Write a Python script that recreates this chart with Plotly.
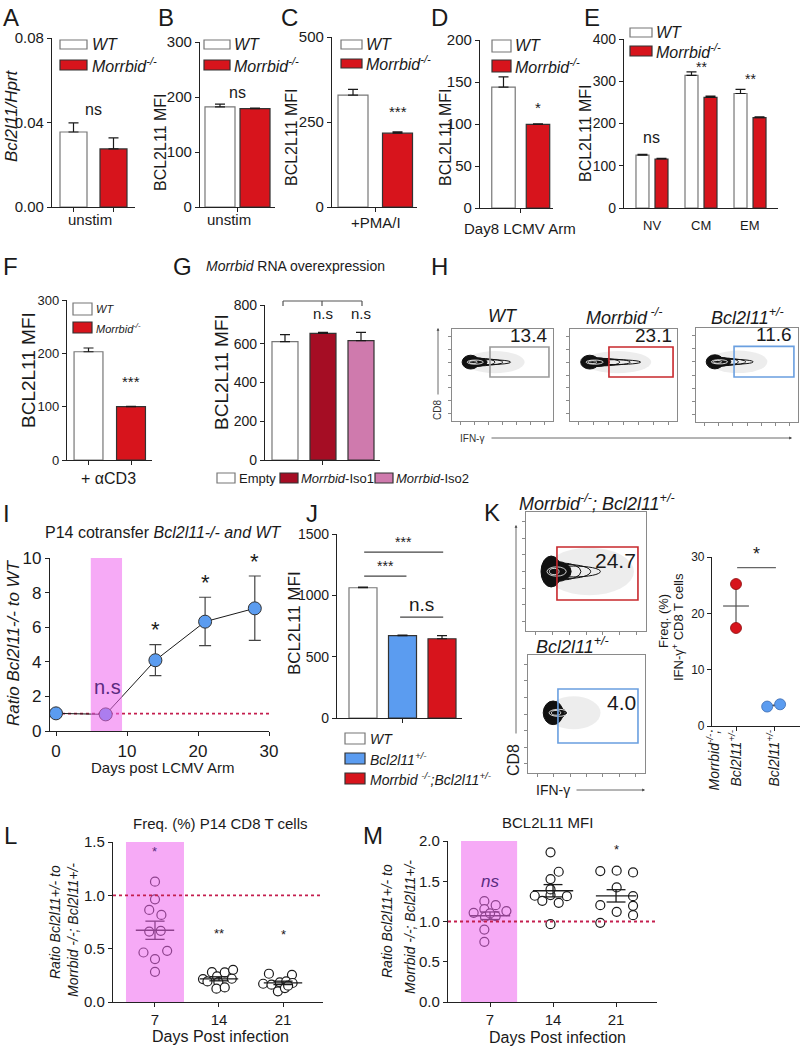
import numpy as np
import plotly.graph_objects as go

W, H = 800, 1047
FONT = "Liberation Sans, Arial, Helvetica, sans-serif"
INK = "#1a1a1a"
GREY_EDGE = "#777777"
DARK_EDGE = "#333333"
RED = "#d7141c"
BLUE = "#5b9cf0"
ISO1 = "#a50d24"
ISO2 = "#cf7aad"
PINK = "rgba(238,100,238,0.55)"
DOT_RED = "#c41e4e"
PURPLE_TXT = "#5b2a80"

# ===================== DATA =====================
# A
A_series = ["WT", "Morrbid<sup>-/-</sup>"]
A_values = [0.0355, 0.0275]
A_errors = [0.0043, 0.0052]
A_yticks = [0, 0.04, 0.08]
A_yticklabels = ["0.00", "0.04", "0.08"]
# B
B_values = [182, 179]
B_errors = [5, 1]
B_yticks = [0, 100, 200, 300]
# C
C_values = [329, 217]
C_errors = [17, 4]
C_yticks = [0, 250, 500]
# D
D_values = [144, 99.5]
D_errors = [12, 0.6]
D_yticks = [0, 50, 100, 150, 200]
# E
E_categories = ["NV", "CM", "EM"]
E_wt = [125, 314, 271]
E_wt_err = [2, 8, 10]
E_ko = [116, 262, 214]
E_ko_err = [1.5, 3, 1.5]
E_sig = ["ns", "**", "**"]
E_sig_y = [168, 334, 305]
E_yticks = [0, 100, 200, 300, 400]
# F
F_values = [203, 100]
F_errors = [7, 0.8]
F_yticks = [0, 100, 200, 300]
# G
G_labels = ["Empty", "<i>Morrbid</i>-Iso1", "<i>Morrbid</i>-Iso2"]
G_values = [611, 654, 616]
G_errors = [36, 5, 43]
G_yticks = [0, 200, 400, 600, 800]
# H (flow)
H_samples = ["WT", "Morrbid<sup> -/-</sup>", "Bcl2l11<sup>+/-</sup>"]
H_pct = ["13.4", "23.1", "11.6"]
H_core_x = [0.2, 0.2, 0.2]
H_core_y = [0.64, 0.64, 0.64]
H_tail = [0.58, 0.66, 0.56]
H_cloud = [0.72, 0.76, 0.70]
H_gate_x0 = [0.376, 0.364, 0.373]
H_gate_x1 = [0.96, 0.963, 0.96]
H_gate_y0 = [0.478, 0.478, 0.478]
H_gate_y1 = [0.804, 0.804, 0.804]
# I
I_days = [0, 7, 14, 21, 28]
I_ratio = [1.02, 0.96, 4.09, 6.32, 7.09]
I_err_up = [0, 0, 0.90, 1.41, 1.87]
I_err_down = [0, 0, 0.89, 1.39, 1.85]
I_sig = ["", "n.s", "*", "*", "*"]
I_xticks = [0, 10, 20, 30]
I_yticks = [0, 2, 4, 6, 8, 10]
# J
J_labels = ["WT", "Bcl2l11<sup>+/-</sup>", "Morrbid <sup>-/-</sup>;Bcl2l11<sup>+/-</sup>"]
J_values = [1062, 671, 646]
J_errors = [5, 4, 25]
J_yticks = [0, 500, 1000, 1500]
# K
K_titles = ["Morrbid<sup>-/-</sup>; Bcl2l11<sup>+/-</sup>", "Bcl2l11<sup>+/-</sup>"]
K_pct = ["24.7", "4.0"]
K_core_x = [0.225, 0.23]
K_core_y = [0.5, 0.51]
K_tail = [0.62, 0.33]
K_cloud = [0.9, 0.62]
K_gates = [[0.258, 0.933, 0.26, 0.706], [0.256, 0.94, 0.254, 0.712]]
K_red = [25.2, 17.4]
K_blue = [3.45, 3.85]
K_blue_jitter = [-0.18, 0.16]
K_yticks = [0, 10, 20, 30]
# L
L_days = ["7", "14", "21"]
L_vals = [
    [1.128, 0.963, 0.863, 0.816, 0.660, 0.667, 0.464, 0.480, 0.402, 0.283],
    [0.215, 0.280, 0.240, 0.277, 0.302, 0.193, 0.187, 0.218, 0.125, 0.137],
    [0.265, 0.255, 0.171, 0.162, 0.184, 0.193, 0.178, 0.100, 0.131, 0.153],
]
L_jitter = [
    [0, 0, -0.09, 0.10, -0.09, 0.09, -0.18, 0.19, 0, 0],
    [-0.25, -0.11, -0.03, 0.09, 0.22, -0.18, -0.01, 0.20, -0.04, 0.09],
    [-0.22, 0.14, -0.31, -0.18, -0.05, 0.05, 0.15, -0.08, 0.03, 0.08],
]
L_sig = ["*", "**", "*"]
L_sig_y = [1.414, 0.645, 0.636]
L_yticks = [0, 0.5, 1.0, 1.5]
L_yticklabels = ["0.0", "0.5", "1.0", "1.5"]
# M
M_vals = [
    [1.253, 1.108, 1.153, 1.203, 1.129, 1.058, 1.066, 0.900, 0.747, 1.100],
    [1.859, 1.618, 1.527, 1.320, 1.257, 1.328, 1.398, 1.232, 1.315, 0.967],
    [1.627, 1.631, 1.610, 1.423, 1.203, 1.315, 1.195, 1.120, 1.079, 0.983],
]
M_jitter = [
    [-0.09, -0.26, -0.09, 0.09, 0.26, -0.08, 0.09, -0.09, -0.09, 0.0],
    [-0.04, 0.09, -0.04, -0.29, -0.17, -0.04, -0.04, 0.09, 0.22, -0.04],
    [-0.25, 0.01, 0.27, 0.01, -0.25, 0.27, 0.27, 0.01, 0.27, -0.25],
]
M_sig = ["ns", "**", "*"]
M_sig_y = [1.50, 2.05, 1.89]
M_yticks = [0, 0.5, 1.0, 1.5, 2.0]
M_yticklabels = ["0.0", "0.5", "1.0", "1.5", "2.0"]

# ===================== HELPERS =====================
fig = go.Figure()
shapes, annots = [], []
axis_layout = {}
counter = [0]


def px(x):
    return x / W


def py(y):
    return 1 - y / H


def new_axes(box, xr, yr, xtickvals=(), ytickvals=(), xticktext=None, yticktext=None,
             tickfont=14, line="#222222", mirror=False, ticklen=4):
    counter[0] += 1
    k = counter[0]
    s = "" if k == 1 else str(k)
    l, t, r, b = box
    common = dict(showgrid=False, zeroline=False, showline=True, linecolor=line, linewidth=1.2,
                  ticks="outside", ticklen=ticklen, tickwidth=1.2, tickcolor=line, mirror=mirror,
                  fixedrange=True, automargin=False,
                  tickfont=dict(family=FONT, size=tickfont, color=INK),
                  tickmode="array")
    xa = dict(common, domain=[px(l), px(r)], range=list(xr), anchor="y" + s, tickvals=list(xtickvals))
    if xticktext is not None:
        xa["ticktext"] = list(xticktext)
    else:
        xa["showticklabels"] = False
    ya = dict(common, domain=[py(b), py(t)], range=list(yr), anchor="x" + s, tickvals=list(ytickvals))
    if yticktext is not None:
        ya["ticktext"] = list(yticktext)
    else:
        ya["showticklabels"] = False
    axis_layout["xaxis" + s] = xa
    axis_layout["yaxis" + s] = ya
    return "x" + s, "y" + s


def txt(x, y, s, size=14, xa="center", ya="middle", angle=0, color=INK, xref="paper", yref="paper"):
    if xref == "paper":
        x = px(x)
    if yref == "paper":
        y = py(y)
    annots.append(dict(x=x, y=y, xref=xref, yref=yref, text=s, showarrow=False, xanchor=xa,
                       yanchor=ya, textangle=angle, borderpad=0,
                       font=dict(family=FONT, size=size, color=color)))


def prect(x0, y0, x1, y1, fill="rgba(0,0,0,0)", line=INK, lw=1.2):
    shapes.append(dict(type="rect", xref="paper", yref="paper", x0=px(x0), x1=px(x1),
                       y0=py(y1), y1=py(y0), fillcolor=fill, line=dict(color=line, width=lw)))


def pline(x0, y0, x1, y1, color=INK, lw=1.2):
    shapes.append(dict(type="line", xref="paper", yref="paper", x0=px(x0), x1=px(x1),
                       y0=py(y0), y1=py(y1), line=dict(color=color, width=lw)))


def aline(xa, ya, x0, y0, x1, y1, color=INK, lw=1.2, dash="solid", layer="above"):
    shapes.append(dict(type="line", xref=xa, yref=ya, x0=x0, x1=x1, y0=y0, y1=y1,
                       line=dict(color=color, width=lw, dash=dash), layer=layer))


def arrow(x_tip, y_tip, x_tail, y_tail):
    annots.append(dict(x=px(x_tip), y=py(y_tip), ax=x_tail - x_tip, ay=y_tail - y_tip,
                       xref="paper", yref="paper", text="", showarrow=True,
                       arrowhead=2, arrowsize=0.7, arrowwidth=0.8, arrowcolor="#444"))


def add_bars(xa, ya, xs, vals, errs, fills, edges, width):
    for x, v, e, f, ec in zip(xs, vals, errs, fills, edges):
        fig.add_trace(go.Bar(
            x=[x], y=[v], width=[width], xaxis=xa, yaxis=ya, showlegend=False,
            marker=dict(color=f, line=dict(color=ec, width=1.2)),
            error_y=dict(type="data", symmetric=False, array=[e], arrayminus=[0],
                         color=INK, thickness=1.2, width=5)))


def legend_rows(x0, x1, rows, fills, edges, labels, size, tx):
    for (y0, y1), f, e, lab in zip(rows, fills, edges, labels):
        prect(x0, y0, x1, y1, f, e)
        txt(tx, (y0 + y1) / 2, "<i>" + lab + "</i>", size, xa="left")


FLOW_TICKS = [0.08, 0.22, 0.36, 0.5, 0.64, 0.78, 0.92]


def flow_panel(box, cx, cy, tail, cloud_x, core_h, cloud_h, gate, gate_color, pct, pct_size, inside):
    xa, ya = new_axes(box, (0, 1), (0, 1), xtickvals=FLOW_TICKS, ytickvals=FLOW_TICKS,
                      line="#8a8a8a", mirror=True, ticklen=3)
    shapes.append(dict(type="circle", xref=xa, yref=ya, x0=cx - 0.07, x1=cloud_x,
                       y0=cy - cloud_h, y1=cy + cloud_h, fillcolor="rgba(0,0,0,0.07)",
                       line=dict(width=0), layer="above"))
    for j in range(5):
        f = j / 4
        x0 = cx - 0.1 + 0.012 * j
        x1 = cx + 0.07 + (tail - cx - 0.07) * f
        hy = core_h if j == 0 else core_h * (0.75 - 0.1 * j)
        filled = j < 2
        shapes.append(dict(type="circle", xref=xa, yref=ya, x0=x0, x1=x1, y0=cy - hy, y1=cy + hy,
                           fillcolor="#111111" if filled else "rgba(0,0,0,0)",
                           line=dict(color="#111111", width=1), layer="above"))
    for j in range(2):
        shapes.append(dict(type="circle", xref=xa, yref=ya, x0=cx - 0.05 + 0.02 * j,
                           x1=cx + 0.05 + 0.06 * (1 - j), y0=cy - core_h * (0.3 - 0.1 * j),
                           y1=cy + core_h * (0.3 - 0.1 * j), fillcolor="rgba(0,0,0,0)",
                           line=dict(color="white", width=0.8), layer="above"))
    gx0, gx1, gy0, gy1 = gate
    shapes.append(dict(type="rect", xref=xa, yref=ya, x0=gx0, x1=gx1, y0=gy0, y1=gy1,
                       line=dict(color=gate_color, width=1.6), fillcolor="rgba(0,0,0,0)",
                       layer="above"))
    if inside:
        txt(gx1 - 0.01, gy1 - 0.01, pct, pct_size, xa="right", ya="top", xref=xa, yref=ya)
    else:
        txt(gx1 - 0.005, gy1 + 0.005, pct, pct_size, xa="right", ya="bottom", xref=xa, yref=ya)
    return xa, ya


def dot_panel(xa, ya, vals, jit, mean_hw, cap_hw, size=9):
    for c, (v, jj) in enumerate(zip(vals, jit)):
        fig.add_trace(go.Scatter(
            x=[c + d for d in jj], y=v, mode="markers", xaxis=xa, yaxis=ya, showlegend=False,
            marker=dict(size=size, color="white", line=dict(color=INK, width=1.2))))
    lx, ly = [], []
    for c, v in enumerate(vals):
        m = float(np.mean(v))
        se = float(np.std(v, ddof=1) / np.sqrt(len(v)))
        lx += [c - mean_hw, c + mean_hw, None, c, c, None, c - cap_hw, c + cap_hw, None,
               c - cap_hw, c + cap_hw, None]
        ly += [m, m, None, m - se, m + se, None, m + se, m + se, None, m - se, m - se, None]
    fig.add_trace(go.Scatter(x=lx, y=ly, mode="lines", xaxis=xa, yaxis=ya, showlegend=False,
                             line=dict(color=INK, width=1.3)))


WT_FILL = ["white", RED]
WT_EDGE = [GREY_EDGE, DARK_EDGE]

# ===================== PANEL A =====================
xa, ya = new_axes((52, 38, 135, 207), (-0.5375, 1.5375), (0, 0.08), xtickvals=[0, 1],
                  ytickvals=A_yticks, yticktext=A_yticklabels, tickfont=15)
add_bars(xa, ya, [0, 1], A_values, A_errors, WT_FILL, WT_EDGE, 0.675)
txt(0.5, 0.046, "ns", 16, xref=xa, yref=ya)
legend_rows(60, 87, [(40, 49), (60, 70)], WT_FILL, WT_EDGE, A_series, 16, 91)
txt(90, 219, "unstim", 15)
txt(12, 116, "<i>Bcl2l11/Hprt</i>", 17, angle=-90)
txt(2, 17, "A", 24, xa="left")

# ===================== PANEL B =====================
xa, ya = new_axes((200, 42, 275, 207), (-0.571, 1.571), (0, 300), xtickvals=[0.5],
                  ytickvals=B_yticks, yticktext=[str(v) for v in B_yticks], tickfont=15)
add_bars(xa, ya, [0, 1], B_values, B_errors, WT_FILL, WT_EDGE, 0.857)
txt(0.5, 209, "ns", 16, xref=xa, yref=ya)
legend_rows(204, 230, [(40, 49), (60, 70)], WT_FILL, WT_EDGE, A_series, 16, 233)
txt(229, 219, "unstim", 15)
txt(160, 142, "BCL2L11 MFI", 16, angle=-90)
txt(157, 17, "B", 24, xa="left")

# ===================== PANEL C =====================
xa, ya = new_axes((332, 37, 417, 207), (-0.472, 1.438), (0, 500), xtickvals=[0.5],
                  ytickvals=C_yticks, yticktext=[str(v) for v in C_yticks], tickfont=15)
add_bars(xa, ya, [0, 1], C_values, C_errors, WT_FILL, WT_EDGE, 0.674)
txt(1, 280, "***", 15, xref=xa, yref=ya)
legend_rows(341, 362, [(40, 49), (59, 68)], WT_FILL, WT_EDGE, A_series, 16, 365)
txt(376, 223, "+PMA/I", 15)
txt(291, 137, "BCL2L11 MFI", 16, angle=-90)
txt(280, 17, "C", 24, xa="left")

# ===================== PANEL D =====================
xa, ya = new_axes((480, 40, 553, 208), (-0.681, 1.435), (0, 200), xtickvals=[0.5],
                  ytickvals=D_yticks, yticktext=[str(v) for v in D_yticks], tickfont=15)
add_bars(xa, ya, [0, 1], D_values, D_errors, WT_FILL, WT_EDGE, 0.68)
txt(1, 120, "*", 15, xref=xa, yref=ya)
legend_rows(492, 511, [(40, 52), (60, 72)], WT_FILL, WT_EDGE, A_series, 16, 514)
txt(520, 228, "Day8 LCMV Arm", 15)
txt(445, 137, "BCL2L11 MFI", 16, angle=-90)
txt(430, 17, "D", 24, xa="left")

# ===================== PANEL E =====================
xa, ya = new_axes((624, 39, 778, 208), (-0.571, 2.571), (0, 400), xtickvals=[],
                  ytickvals=E_yticks, yticktext=[str(v) for v in E_yticks], tickfont=14)
g = list(range(len(E_categories)))
add_bars(xa, ya, [i - 0.194 for i in g], E_wt, E_wt_err, ["white"] * 3, [GREY_EDGE] * 3, 0.265)
add_bars(xa, ya, [i + 0.194 for i in g], E_ko, E_ko_err, [RED] * 3, [DARK_EDGE] * 3, 0.265)
for i, (s, yv) in enumerate(zip(E_sig, E_sig_y)):
    txt(i, yv, s, 16 if s == "ns" else 14, xref=xa, yref=ya)
for i, c in enumerate(E_categories):
    txt(652 + 49 * i, 225, c, 13)
legend_rows(630, 652, [(28, 37), (46, 56)], WT_FILL, WT_EDGE, A_series, 16, 655)
txt(585, 133, "BCL2L11 MFI", 16, angle=-90)
txt(583, 17, "E", 24, xa="left")

# ===================== PANEL F =====================
xa, ya = new_axes((67, 300, 152, 460), (-0.506, 1.494), (0, 300), xtickvals=[0, 1],
                  ytickvals=F_yticks, yticktext=[str(v) for v in F_yticks], tickfont=13)
add_bars(xa, ya, [0, 1], F_values, F_errors, WT_FILL, WT_EDGE, 0.68)
txt(1, 147, "***", 15, xref=xa, yref=ya)
legend_rows(73, 92, [(303, 315), (322, 333)], WT_FILL, WT_EDGE, A_series, 11, 95)
txt(108, 478, "+ αCD3", 16)
txt(28, 370, "BCL2L11 MFI", 19, angle=-90)
txt(2, 267, "F", 24, xa="left")

# ===================== PANEL G =====================
xa, ya = new_axes((265, 305, 380, 460), (-0.526, 2.5), (0, 800), xtickvals=[1],
                  ytickvals=G_yticks, yticktext=[str(v) for v in G_yticks], tickfont=14)
add_bars(xa, ya, [0, 1, 2], G_values, G_errors, ["white", ISO1, ISO2],
         [GREY_EDGE, DARK_EDGE, DARK_EDGE], 0.684)
pline(283, 301, 362, 301, "#555")
for xx in (283, 322, 362):
    pline(xx, 301, xx, 306, "#555")
txt(323, 314, "n.s", 15)
txt(361, 314, "n.s", 15)
prect(217, 473, 235, 483, "white", GREY_EDGE)
txt(238, 478, G_labels[0], 13, xa="left")
prect(280, 473, 298, 483, ISO1, DARK_EDGE)
txt(300, 478, G_labels[1], 13, xa="left")
prect(375, 473, 393, 483, ISO2, DARK_EDGE)
txt(395, 478, G_labels[2], 13, xa="left")
txt(205, 266, "<i>Morrbid</i> RNA overexpression", 14, xa="left")
txt(222, 372, "BCL2L11 MFI", 19, angle=-90)
txt(172, 267, "G", 24, xa="left")

# ===================== PANEL H (flow) =====================
H_boxes = [(452, 329, 553, 421), (570, 329, 677, 421), (696, 328, 798, 422)]
H_colors = ["#9a9a9a", "#c8282d", "#6a9fe0"]
for i in range(3):
    flow_panel(H_boxes[i], H_core_x[i], H_core_y[i], H_tail[i], H_cloud[i], 0.075, 0.12,
               (H_gate_x0[i], H_gate_x1[i], H_gate_y0[i], H_gate_y1[i]), H_colors[i],
               H_pct[i], 19, False)
    l, t, r, b = H_boxes[i]
    txt((l + r) / 2, 316, "<i>" + H_samples[i] + "</i>", 18)
txt(438, 410, "CD8", 10, angle=-90, color="#333")
arrow(438, 328, 438, 396)
txt(472, 438, "IFN-γ", 10, color="#333")
arrow(792, 438, 490, 438)
txt(430, 267, "H", 24, xa="left")

# ===================== PANEL I =====================
xa, ya = new_axes((50, 558, 269, 731), (-0.845, 30), (0, 10), xtickvals=I_xticks,
                  xticktext=[str(v) for v in I_xticks], ytickvals=I_yticks,
                  yticktext=[str(v) for v in I_yticks], tickfont=17)
aline(xa, ya, 0, 1, 30, 1, DOT_RED, 1.8, "dot", "below")
fig.add_trace(go.Scatter(
    x=I_days, y=I_ratio, mode="lines+markers", xaxis=xa, yaxis=ya, showlegend=False,
    line=dict(color=INK, width=1),
    marker=dict(size=13, color=BLUE, line=dict(color="#333", width=1)),
    error_y=dict(type="data", symmetric=False, array=I_err_up, arrayminus=I_err_down,
                 color="#444", thickness=1.2, width=6)))
shapes.append(dict(type="rect", xref=xa, yref=ya, x0=4.9, x1=9.3, y0=0, y1=10,
                   fillcolor=PINK, line=dict(width=0), layer="above"))
for d, r, e, s in zip(I_days, I_ratio, I_err_up, I_sig):
    if s == "*":
        txt(d, r + e + 0.85, s, 22, xref=xa, yref=ya)
    elif s:
        txt(d + 0.3, 2.56, s, 20, color=PURPLE_TXT, xref=xa, yref=ya)
txt(163, 532, "P14 cotransfer <i>Bcl2l11-/- and WT</i>", 16)
txt(162, 767, "Days post LCMV Arm", 15)
txt(13, 643, "<i>Ratio Bcl2l11-/- to WT</i>", 17, angle=-90)
txt(2, 513, "I", 24, xa="left")

# ===================== PANEL J =====================
xa, ya = new_axes((337, 534, 462, 718), (-0.658, 2.506), (0, 1500), xtickvals=[1],
                  ytickvals=J_yticks, yticktext=[str(v) for v in J_yticks], tickfont=14)
add_bars(xa, ya, [0, 1, 2], J_values, J_errors, ["white", BLUE, RED],
         [GREY_EDGE, DARK_EDGE, DARK_EDGE], 0.709)
aline(xa, ya, 0.03, 1353, 2.03, 1353, "#444")
txt(1.03, 1365, "***", 14, ya="bottom", xref=xa, yref=ya)
aline(xa, ya, 0.03, 1157, 1.1, 1157, "#444")
txt(0.56, 1169, "***", 14, ya="bottom", xref=xa, yref=ya)
aline(xa, ya, 0.94, 823, 2.03, 823, "#444")
txt(1.48, 835, "n.s", 19, ya="bottom", xref=xa, yref=ya)
legend_rows(345, 365, [(733, 744), (753, 764), (773, 784)], ["white", BLUE, RED],
            [GREY_EDGE, DARK_EDGE, DARK_EDGE], J_labels, 14, 369)
txt(294, 623, "BCL2L11 MFI", 17, angle=-90)
txt(305, 513, "J", 24, xa="left")

# ===================== PANEL K =====================
K_boxes = [(526, 512, 646, 631), (528, 655, 645, 773)]
K_colors = ["#c8282d", "#6a9fe0"]
K_core_h = [0.13, 0.1]
K_cloud_h = [0.2, 0.14]
for i in range(2):
    flow_panel(K_boxes[i], K_core_x[i], K_core_y[i], K_tail[i], K_cloud[i], K_core_h[i],
               K_cloud_h[i], tuple(K_gates[i]), K_colors[i], K_pct[i], 21, True)
txt(518, 502, "<i>" + K_titles[0] + "</i>", 18, xa="left")
txt(535, 645, "<i>" + K_titles[1] + "</i>", 18, xa="left")
txt(513, 760, "CD8", 16, angle=-90)
arrow(516, 525, 516, 735)
txt(553, 790, "IFN-γ", 14)
arrow(645, 790, 575, 790)
txt(483, 512, "K", 24, xa="left")

xa, ya = new_axes((712, 557, 800, 726), (-0.632, 1.684), (0, 30), xtickvals=[0, 1],
                  ytickvals=K_yticks, yticktext=[str(v) for v in K_yticks], tickfont=12)
rm = float(np.mean(K_red))
rse = float(np.std(K_red, ddof=1) / np.sqrt(len(K_red)))
bm = float(np.mean(K_blue))
bse = float(np.std(K_blue, ddof=1) / np.sqrt(len(K_blue)))
fig.add_trace(go.Scatter(
    x=[-0.34, 0.34, None, 0, 0, None, 1 - 0.2, 1 + 0.2, None, 1, 1],
    y=[rm, rm, None, rm - rse, rm + rse, None, bm, bm, None, bm - bse, bm + bse],
    mode="lines", xaxis=xa, yaxis=ya, showlegend=False, line=dict(color="#555", width=1.2)))
fig.add_trace(go.Scatter(x=[0] * len(K_red), y=K_red, mode="markers", xaxis=xa, yaxis=ya,
                         showlegend=False,
                         marker=dict(size=11, color=RED, line=dict(color="#8a0a0a", width=0.8))))
fig.add_trace(go.Scatter(x=[1 + j for j in K_blue_jitter], y=K_blue, mode="markers", xaxis=xa,
                         yaxis=ya, showlegend=False,
                         marker=dict(size=11, color=BLUE, line=dict(color="#3a6ab0", width=0.8))))
aline(xa, ya, 0.03, 28.1, 1.05, 28.1, "#666")
txt(0.53, 28.6, "*", 18, ya="bottom", xref=xa, yref=ya)
txt(713, 729, "<i>Morrbid<sup>-/-</sup>;</i>", 14, ya="top", angle=-90)
txt(735, 729, "<i>Bcl2l11<sup>+/-</sup></i>", 14, ya="top", angle=-90)
txt(773, 729, "<i>Bcl2l11<sup>+/-</sup></i>", 14, ya="top", angle=-90)
txt(663, 621, "Freq. (%)", 13, angle=-90)
txt(678, 627, "IFN-γ<sup>+</sup> CD8 T cells", 13, angle=-90)

# ===================== PANEL L =====================
xa, ya = new_axes((113, 842, 323, 1002), (-0.656, 2.625), (0, 1.5), xtickvals=[0, 1, 2],
                  xticktext=L_days, ytickvals=L_yticks, yticktext=L_yticklabels, tickfont=15)
dot_panel(xa, ya, L_vals, L_jitter, 0.3, 0.15)
shapes.append(dict(type="rect", xref=xa, yref=ya, x0=-0.453, x1=0.453, y0=0, y1=1.5,
                   fillcolor=PINK, line=dict(width=0), layer="above"))
aline(xa, ya, -0.656, 1.0, 2.625, 1.0, DOT_RED, 1.8, "dot", "above")
for i, (s, yv) in enumerate(zip(L_sig, L_sig_y)):
    txt(i, yv, s, 13, color=PURPLE_TXT if i == 0 else INK, xref=xa, yref=ya)
txt(220, 824, "Freq. (%) P14 CD8 T cells", 15)
txt(220, 1036, "Days Post infection", 16)
txt(55, 922, "<i>Ratio Bcl2l11+/- to</i>", 14, angle=-90)
txt(73, 930, "<i>Morrbid -/-; Bcl2l11+/-</i>", 14, angle=-90)
txt(3, 835, "L", 24, xa="left")

# ===================== PANEL M =====================
xa, ya = new_axes((448, 841, 657, 1002), (-0.667, 2.65), (0, 2), xtickvals=[0, 1, 2],
                  xticktext=L_days, ytickvals=M_yticks, yticktext=M_yticklabels, tickfont=15)
dot_panel(xa, ya, M_vals, M_jitter, 0.32, 0.15)
shapes.append(dict(type="rect", xref=xa, yref=ya, x0=-0.46, x1=0.43, y0=0, y1=2.0,
                   fillcolor=PINK, line=dict(width=0), layer="above"))
aline(xa, ya, -0.667, 1.0, 2.65, 1.0, DOT_RED, 1.8, "dot", "above")
for i, (s, yv) in enumerate(zip(M_sig, M_sig_y)):
    if s == "ns":
        txt(i, yv, "<i>ns</i>", 17, color=PURPLE_TXT, xref=xa, yref=ya)
    else:
        txt(i, yv, s, 13, xref=xa, yref=ya)
txt(547, 822, "BCL2L11 MFI", 15)
txt(557, 1037, "Days Post infection", 16)
txt(387, 921, "<i>Ratio Bcl2l11+/- to</i>", 14, angle=-90)
txt(410, 927, "<i>Morrbid -/-; Bcl2l11+/-</i>", 14, angle=-90)
txt(362, 835, "M", 24, xa="left")

# ===================== LAYOUT =====================
fig.update_layout(
    width=W, height=H, margin=dict(l=0, r=0, t=0, b=0, pad=0, autoexpand=False),
    paper_bgcolor="white", plot_bgcolor="white", barmode="overlay", showlegend=False,
    font=dict(family=FONT, color=INK), shapes=shapes, annotations=annots,
    hovermode=False, **axis_layout)

fig.write_html("out.html", config={"displayModeBar": False},
               post_script="document.body.style.margin='0px';document.body.style.overflow='hidden';")
